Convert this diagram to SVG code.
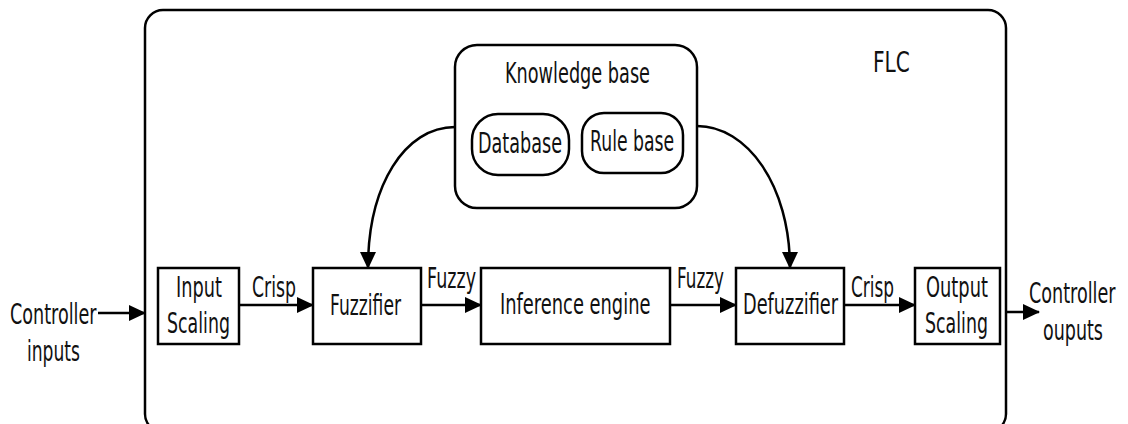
<svg xmlns="http://www.w3.org/2000/svg" width="1128" height="424" viewBox="0 0 1128 424">
<defs>
<marker id="ah" markerUnits="userSpaceOnUse" markerWidth="17" markerHeight="16" refX="16" refY="8" orient="auto">
<path d="M0,0 L17,8 L0,16 Z" fill="#000"/>
</marker>
<style>
text{font-family:"DejaVu Sans","Liberation Sans",sans-serif;font-size:28px;fill:#111;}
.box{fill:#fff;stroke:#000;stroke-width:2.5;}
.frame{fill:none;stroke:#000;stroke-width:2.5;}
.conn{fill:none;stroke:#000;stroke-width:2.5;marker-end:url(#ah);}
</style>
</defs>
<rect width="1128" height="424" fill="#fff"/>
<g id="flc">
<rect class="frame" x="145" y="10" width="861" height="422" rx="18" ry="18"/>
<text transform="translate(873,72) scale(0.72,1)">FLC</text>
</g>
<g id="knowledge-base">
<rect class="frame" x="455" y="45" width="242" height="163" rx="22" ry="22"/>
<text transform="translate(505,83) scale(0.632,1)">Knowledge base</text>
</g>
<g id="database">
<rect class="frame" x="472" y="114" width="97" height="61" rx="26" ry="26"/>
<text transform="translate(478,153) scale(0.629,1)">Database</text>
</g>
<g id="rule-base">
<rect class="frame" x="582" y="113" width="101" height="60" rx="22" ry="22"/>
<text transform="translate(590,151) scale(0.616,1)">Rule base</text>
</g>
<g id="input-scaling">
<rect class="box" x="158" y="268" width="81" height="76"/>
<text transform="translate(176,297) scale(0.634,1)">Input</text>
<text transform="translate(167,333) scale(0.621,1)">Scaling</text>
</g>
<g id="fuzzifier">
<rect class="box" x="313" y="268" width="108" height="76"/>
<text transform="translate(330,315) scale(0.613,1)">Fuzzifier</text>
</g>
<g id="inference-engine">
<rect class="box" x="481" y="268" width="189" height="76"/>
<text transform="translate(500,314) scale(0.638,1)">Inference engine</text>
</g>
<g id="defuzzifier">
<rect class="box" x="736" y="268" width="108" height="76"/>
<text transform="translate(743,314) scale(0.634,1)">Defuzzifier</text>
</g>
<g id="output-scaling">
<rect class="box" x="915" y="268" width="85" height="76"/>
<text transform="translate(926,297) scale(0.637,1)">Output</text>
<text transform="translate(925,333) scale(0.621,1)">Scaling</text>
</g>
<g id="controller-inputs">
<text transform="translate(10,324) scale(0.629,1)">Controller</text>
<text transform="translate(27,361) scale(0.612,1)">inputs</text>
</g>
<g id="controller-outputs">
<text transform="translate(1029,303) scale(0.629,1)">Controller</text>
<text transform="translate(1043,340) scale(0.625,1)">ouputs</text>
</g>
<g id="connectors">
<path class="conn" d="M98,313 L145,313"/>
<path class="conn" d="M239,305 L313,305"/>
<path class="conn" d="M421,305 L481,305"/>
<path class="conn" d="M670,305 L736,305"/>
<path class="conn" d="M844,305 L915,305"/>
<path class="conn" d="M1006,312 L1039,312"/>
<path class="conn" d="M455,127 C405,127 368,185 368,268"/>
<path class="conn" d="M697,126 C747,126 790,185 790,268"/>
<text transform="translate(252,297) scale(0.618,1)">Crisp</text>
<text transform="translate(427,288) scale(0.627,1)">Fuzzy</text>
<text transform="translate(677,288) scale(0.6,1)">Fuzzy</text>
<text transform="translate(851,297) scale(0.604,1)">Crisp</text>
</g>
</svg>
